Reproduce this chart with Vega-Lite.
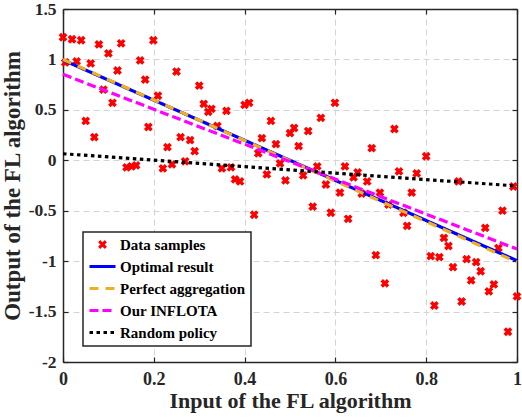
{
  "$schema": "https://vega.github.io/schema/vega-lite/v6.json",
  "width": 454,
  "height": 353,
  "autosize": {"type": "none"},
  "padding": {"left": 63, "top": 9, "right": 5, "bottom": 56},
  "config": {
    "view": {"stroke": null},
    "font": "Liberation Serif",
    "axis": {
      "domainColor": "#262626",
      "domainWidth": 1.5,
      "tickColor": "#262626",
      "tickWidth": 1.2,
      "tickSize": -5,
      "labelFont": "Liberation Serif",
      "labelFontSize": 18,
      "labelFontWeight": "bold",
      "labelColor": "#262626",
      "labelFlush": false,
      "labelOverlap": false,
      "titleFont": "Liberation Serif",
      "titleFontSize": 22,
      "titleFontWeight": "bold",
      "titleColor": "#262626",
      "gridColor": "#d4d4d4",
      "gridDash": [6, 4],
      "gridWidth": 1
    },
    "legend": {
      "orient": "none",
      "legendX": 20,
      "legendY": 223,
      "direction": "vertical",
      "fillColor": "white",
      "strokeColor": "#262626",
      "padding": 5,
      "rowPadding": 6,
      "clipHeight": 15,
      "symbolSize": 676,
      "symbolStrokeWidth": 3,
      "labelFont": "Liberation Serif",
      "labelFontSize": 15,
      "labelFontWeight": "bold",
      "labelColor": "#000000",
      "labelOffset": 3
    }
  },
  "datasets": {
    "samples": [
      {"x": 0.0, "y": 1.22}, {"x": 0.02, "y": 1.2}, {"x": 0.04, "y": 1.19}, {"x": 0.079, "y": 1.15},
      {"x": 0.128, "y": 1.16}, {"x": 0.199, "y": 1.19}, {"x": 0.1, "y": 1.06}, {"x": 0.17, "y": 0.99},
      {"x": 0.005, "y": 0.97}, {"x": 0.03, "y": 0.98}, {"x": 0.061, "y": 0.96}, {"x": 0.12, "y": 0.89},
      {"x": 0.25, "y": 0.88}, {"x": 0.181, "y": 0.8}, {"x": 0.3, "y": 0.74}, {"x": 0.089, "y": 0.7},
      {"x": 0.209, "y": 0.64}, {"x": 0.109, "y": 0.57}, {"x": 0.31, "y": 0.56}, {"x": 0.32, "y": 0.48},
      {"x": 0.327, "y": 0.51}, {"x": 0.36, "y": 0.49}, {"x": 0.4, "y": 0.55}, {"x": 0.41, "y": 0.57},
      {"x": 0.05, "y": 0.39}, {"x": 0.458, "y": 0.39}, {"x": 0.188, "y": 0.33}, {"x": 0.069, "y": 0.23},
      {"x": 0.259, "y": 0.23}, {"x": 0.28, "y": 0.2}, {"x": 0.438, "y": 0.22}, {"x": 0.469, "y": 0.16},
      {"x": 0.23, "y": 0.13}, {"x": 0.29, "y": 0.09}, {"x": 0.34, "y": 0.34}, {"x": 0.43, "y": 0.07},
      {"x": 0.269, "y": -0.01}, {"x": 0.478, "y": -0.03}, {"x": 0.14, "y": -0.07}, {"x": 0.151, "y": -0.06},
      {"x": 0.161, "y": -0.05}, {"x": 0.22, "y": -0.08}, {"x": 0.24, "y": -0.04}, {"x": 0.35, "y": -0.08},
      {"x": 0.37, "y": -0.07}, {"x": 0.449, "y": -0.14}, {"x": 0.379, "y": -0.19}, {"x": 0.39, "y": -0.21},
      {"x": 0.49, "y": -0.2}, {"x": 0.5, "y": 0.27}, {"x": 0.509, "y": 0.32},
      {"x": 0.599, "y": 0.57}, {"x": 0.568, "y": 0.42}, {"x": 0.54, "y": 0.29}, {"x": 0.73, "y": 0.31},
      {"x": 0.519, "y": 0.14}, {"x": 0.68, "y": 0.12}, {"x": 0.8, "y": 0.04}, {"x": 0.56, "y": -0.06},
      {"x": 0.621, "y": -0.06}, {"x": 0.529, "y": -0.15}, {"x": 0.649, "y": -0.12}, {"x": 0.64, "y": -0.17},
      {"x": 0.67, "y": -0.21}, {"x": 0.74, "y": -0.11}, {"x": 0.779, "y": -0.13}, {"x": 0.579, "y": -0.24},
      {"x": 0.61, "y": -0.32}, {"x": 0.698, "y": -0.32}, {"x": 0.658, "y": -0.33}, {"x": 0.768, "y": -0.32},
      {"x": 0.871, "y": -0.21}, {"x": 0.992, "y": -0.26},
      {"x": 0.55, "y": -0.46}, {"x": 0.59, "y": -0.52}, {"x": 0.628, "y": -0.58}, {"x": 0.717, "y": -0.44},
      {"x": 0.75, "y": -0.52}, {"x": 0.758, "y": -0.65}, {"x": 0.968, "y": -0.5}, {"x": 0.93, "y": -0.67},
      {"x": 0.839, "y": -0.77}, {"x": 0.849, "y": -0.85}, {"x": 0.959, "y": -0.87}, {"x": 0.689, "y": -0.94},
      {"x": 0.81, "y": -0.95}, {"x": 0.829, "y": -0.96}, {"x": 0.889, "y": -0.98}, {"x": 0.91, "y": -1.01},
      {"x": 0.859, "y": -1.06}, {"x": 0.92, "y": -1.1}, {"x": 0.899, "y": -1.19}, {"x": 0.949, "y": -1.23},
      {"x": 0.938, "y": -1.3}, {"x": 0.709, "y": -1.22}, {"x": 1.0, "y": -1.35}, {"x": 0.878, "y": -1.4},
      {"x": 0.818, "y": -1.44}, {"x": 0.98, "y": -1.7}, {"x": 0.421, "y": -0.54}
    ],
    "fits": [
      {"series": "Optimal result", "x": 0, "y": 0.994},
      {"series": "Optimal result", "x": 1, "y": -0.995},
      {"series": "Perfect aggregation", "x": 0, "y": 1.0},
      {"series": "Perfect aggregation", "x": 1, "y": -1.01},
      {"series": "Our INFLOTA", "x": 0, "y": 0.852},
      {"series": "Our INFLOTA", "x": 1, "y": -0.88},
      {"series": "Random policy", "x": 0, "y": 0.065},
      {"series": "Random policy", "x": 1, "y": -0.255}
    ]
  },
  "layer": [
    {
      "data": {"name": "samples"},
      "mark": {
        "type": "point",
        "shape": "M-1,-1L1,1M-1,1L1,-1",
        "filled": false,
        "size": 40,
        "strokeWidth": 3.5,
        "opacity": 1
      },
      "encoding": {
        "x": {
          "field": "x",
          "type": "quantitative",
          "scale": {"domain": [0, 1], "nice": false, "zero": false},
          "axis": {
            "orient": "bottom",
            "values": [0, 0.2, 0.4, 0.6, 0.8, 1],
            "labelExpr": "toString(datum.value)",
            "labelPadding": 13,
            "grid": true,
            "title": "Input of the FL algorithm",
            "titlePadding": 2
          }
        },
        "y": {
          "field": "y",
          "type": "quantitative",
          "scale": {"domain": [-2, 1.5], "nice": false, "zero": false},
          "axis": {
            "orient": "left",
            "values": [-2, -1.5, -1, -0.5, 0, 0.5, 1, 1.5],
            "labelExpr": "toString(datum.value)",
            "labelFontSize": 17.5,
            "labelPadding": 12,
            "grid": true,
            "title": "Output of the FL algorithm",
            "titleFontSize": 23,
            "titlePadding": 4
          }
        },
        "color": {
          "datum": "Data samples",
          "type": "nominal",
          "title": null,
          "scale": {
            "domain": ["Data samples", "Optimal result", "Perfect aggregation", "Our INFLOTA", "Random policy"],
            "range": ["#ff0000", "#0000ff", "#edb120", "#ff00ff", "#000000"]
          },
          "legend": {
            "title": null,
            "encode": {
              "legend": {"update": {"strokeWidth": {"value": 1.5}}},
              "symbols": {
                "update": {
                  "shape": {"signal": "datum.value === 'Data samples' ? 'M-1,-1L1,1M-1,1L1,-1' : 'stroke'"},
                  "size": {"signal": "datum.value === 'Data samples' ? 44 : 676"},
                  "strokeDash": {"signal": "datum.value === 'Perfect aggregation' ? [9, 7] : datum.value === 'Our INFLOTA' ? [9, 4] : datum.value === 'Random policy' ? [3.5, 3.5] : [1, 0]"},
                  "strokeWidth": {"value": 3},
                  "fill": {"value": "transparent"},
                  "opacity": {"value": 1}
                }
              }
            }
          }
        }
      }
    },
    {
      "data": {"name": "fits"},
      "mark": {"type": "line", "strokeWidth": 3.2, "strokeCap": "butt"},
      "encoding": {
        "x": {
          "field": "x",
          "type": "quantitative",
          "axis": {
            "orient": "top",
            "values": [0, 0.2, 0.4, 0.6, 0.8, 1],
            "labels": false,
            "grid": false,
            "title": null
          }
        },
        "y": {
          "field": "y",
          "type": "quantitative",
          "axis": {
            "orient": "right",
            "values": [-2, -1.5, -1, -0.5, 0, 0.5, 1, 1.5],
            "labels": false,
            "grid": false,
            "title": null
          }
        },
        "color": {
          "field": "series",
          "type": "nominal",
          "title": null,
          "legend": {
            "title": null,
            "encode": {
              "legend": {"update": {"strokeWidth": {"value": 1.5}}},
              "symbols": {
                "update": {
                  "shape": {"signal": "datum.value === 'Data samples' ? 'M-1,-1L1,1M-1,1L1,-1' : 'stroke'"},
                  "size": {"signal": "datum.value === 'Data samples' ? 44 : 676"},
                  "strokeDash": {"signal": "datum.value === 'Perfect aggregation' ? [9, 7] : datum.value === 'Our INFLOTA' ? [9, 4] : datum.value === 'Random policy' ? [3.5, 3.5] : [1, 0]"},
                  "strokeWidth": {"value": 3},
                  "fill": {"value": "transparent"},
                  "opacity": {"value": 1}
                }
              }
            }
          }
        },
        "strokeDash": {
          "field": "series",
          "type": "nominal",
          "scale": {
            "domain": ["Optimal result", "Perfect aggregation", "Our INFLOTA", "Random policy"],
            "range": [[1, 0], [9, 7], [9, 4], [3.5, 3.5]]
          },
          "legend": null
        }
      }
    }
  ],
  "resolve": {"axis": {"x": "independent", "y": "independent"}}
}
